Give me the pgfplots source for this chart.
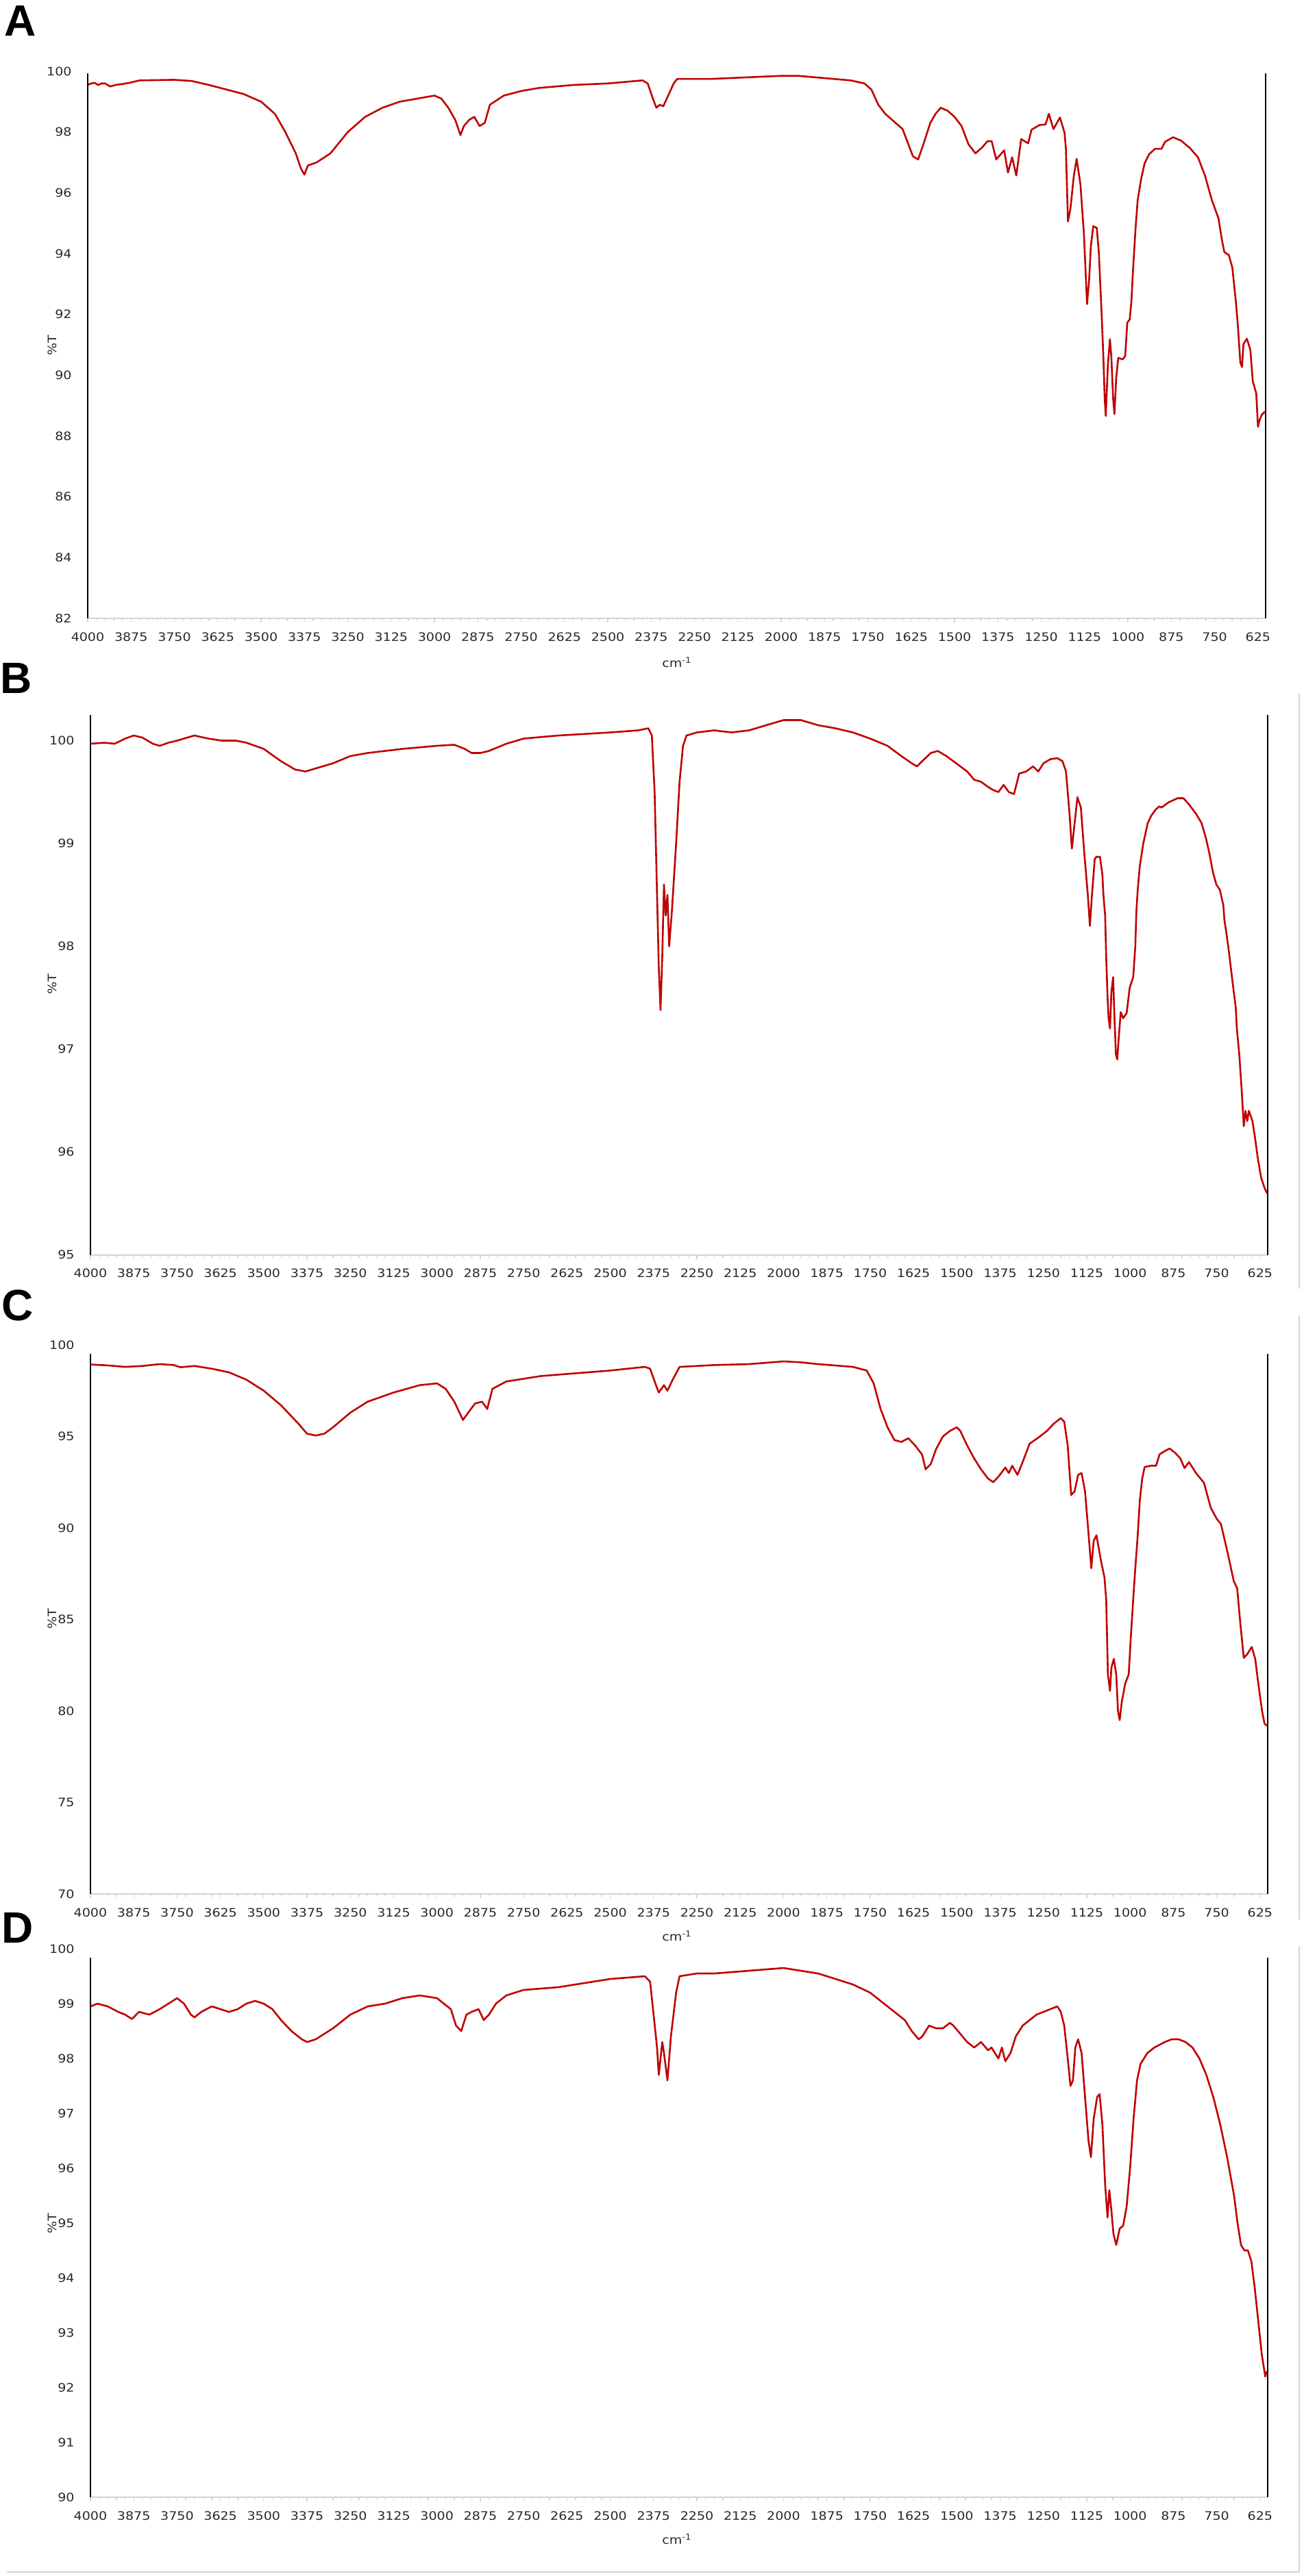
\documentclass[border=0pt]{standalone}
\usepackage{pgfplots}
\pgfplotsset{compat=1.18}
\usepackage{fontspec}
\setmainfont{DejaVu Sans}
\newfontfamily\tickfontfam[FakeStretch=1.12]{DejaVu Sans}
\newfontfamily\letterfont{Liberation Sans}
\newcommand{\tickfont}{\tickfontfam\fontsize{8.5pt}{9.5pt}\selectfont}
\definecolor{irred}{RGB}{192,0,0}
\definecolor{tickcol}{RGB}{40,40,40}
\definecolor{frame}{RGB}{212,212,212}
\pgfplotsset{
  irstyle/.style={
    scale only axis,
    x dir=reverse,
    xmin=603, xmax=4000,
    xtick={625,750,...,4000},
    minor x tick num=4,
    xtick pos=bottom,
    tick align=outside,
    major tick length=3pt,
    minor tick length=2pt,
    every tick/.style={frame, line width=0.6pt},
    ytick style={draw=none},
    axis line style={draw=none},
    clip=false,
    /pgf/number format/.cd, set thousands separator={}, assume math mode=true,
    /pgfplots/.cd,
    xticklabel style={font=\tickfont, text=tickcol, anchor=north, inner sep=0pt, yshift=-7pt},
    yticklabel style={font=\tickfont, text=tickcol, anchor=east, inner sep=0pt, xshift=-8.5pt},
  },
  irline/.style={draw=irred, line width=1.3pt, line join=round, mark=none},
}
\begin{document}
\begin{tikzpicture}
\path[use as bounding box] (0pt,0pt) rectangle (951pt,-1879pt);
% panel letters
\node[font=\letterfont\bfseries\fontsize{32pt}{34pt}\selectfont, inner sep=0pt] at (15pt,-15pt) {A};
\node[font=\letterfont\bfseries\fontsize{32pt}{34pt}\selectfont, inner sep=0pt] at (12pt,-494.5pt) {B};
\node[font=\letterfont\bfseries\fontsize{32pt}{34pt}\selectfont, inner sep=0pt] at (13pt,-952pt) {C};
\node[font=\letterfont\bfseries\fontsize{32pt}{34pt}\selectfont, inner sep=0pt] at (13pt,-1406pt) {D};
% frames
\draw[frame, line width=1pt] (948pt,-506pt) -- (948pt,-940pt);
\draw[frame, line width=1pt] (948pt,-960pt) -- (948pt,-1400pt);
\draw[frame, line width=1pt] (948pt,-1420pt) -- (948pt,-1876pt) -- (5pt,-1876pt);
% y labels
\node[rotate=90, font=\tickfont, text=tickcol] at (38pt,-252pt) {\%T};
\node[rotate=90, font=\tickfont, text=tickcol] at (38pt,-718pt) {\%T};
\node[rotate=90, font=\tickfont, text=tickcol] at (38pt,-1181pt) {\%T};
\node[rotate=90, font=\tickfont, text=tickcol] at (38pt,-1622pt) {\%T};
% x labels
\node[font=\tickfont, text=tickcol] at (494pt,-483pt) {cm\textsuperscript{-1}};
\node[font=\tickfont, text=tickcol] at (494pt,-1412pt) {cm\textsuperscript{-1}};
\node[font=\tickfont, text=tickcol] at (494pt,-1852pt) {cm\textsuperscript{-1}};

% ---------------- A ----------------
\begin{axis}[irstyle, at={(64pt,-451pt)}, anchor=south west,
  width=859.5pt, height=399pt, ymin=82, ymax=100, ytick={82,84,...,100}]
\addplot[irline] coordinates {
(4000,99.55)(3990,99.6)(3980,99.62)(3970,99.55)(3960,99.6)(3950,99.6)(3935,99.5)(3920,99.55)(3900,99.58)(3880,99.62)(3850,99.7)(3750,99.72)(3700,99.68)
(3650,99.55)(3600,99.4)(3550,99.25)(3500,99.0)(3460,98.6)(3430,98.0)(3400,97.3)
(3385,96.8)(3375,96.6)(3365,96.9)(3340,97.0)(3300,97.3)(3250,98.0)(3200,98.5)
(3150,98.8)(3100,99.0)(3050,99.1)(3000,99.2)(2980,99.1)(2960,98.8)(2940,98.4)
(2925,97.9)(2915,98.2)(2900,98.4)(2885,98.5)(2870,98.2)(2855,98.3)(2840,98.9)
(2800,99.2)(2750,99.35)(2700,99.45)(2600,99.55)(2500,99.6)(2400,99.7)(2385,99.6)
(2370,99.1)(2360,98.8)(2350,98.9)(2340,98.85)(2330,99.1)(2310,99.6)(2300,99.75)
(2200,99.75)(2100,99.8)(2000,99.85)(1950,99.85)(1900,99.8)(1800,99.7)(1760,99.6)
(1740,99.4)(1720,98.9)(1700,98.6)(1680,98.4)(1650,98.1)(1630,97.5)(1620,97.2)
(1605,97.1)(1590,97.6)(1570,98.3)(1555,98.6)(1540,98.8)(1520,98.7)(1500,98.5)
(1480,98.2)(1460,97.6)(1440,97.3)(1420,97.5)(1405,97.7)(1393,97.7)(1380,97.1)
(1357,97.4)(1346,96.67)(1334,97.17)(1322,96.57)(1308,97.77)(1288,97.63)(1278,98.08)
(1255,98.23)(1238,98.25)(1228,98.6)(1215,98.1)(1196,98.48)(1183,97.98)(1179,97.47)
(1173,95.06)(1166,95.47)(1156,96.57)(1148,97.12)(1137,96.27)(1127,94.65)(1118,92.34)
(1112,93.14)(1107,94.25)(1100,94.9)(1090,94.85)(1084,94.05)(1076,92.04)(1071,90.63)
(1067,89.22)(1064,88.66)(1058,90.32)(1052,91.18)(1048,90.63)(1043,89.27)(1039,88.72)
(1034,89.9)(1028,90.57)(1015,90.52)(1008,90.63)(1002,91.73)(995,91.83)(990,92.44)
(985,93.54)(978,94.85)(972,95.76)(962,96.46)(952,96.97)(939,97.27)(922,97.45)
(903,97.45)(893,97.68)(870,97.83)(847,97.72)(821,97.47)(798,97.17)(778,96.57)
(758,95.76)(739,95.16)(729,94.45)(722,94.05)(709,93.95)(699,93.54)(689,92.44)
(683,91.63)(676,90.42)(671,90.27)(667,91.02)(657,91.2)(647,90.83)(640,89.8)
(630,89.4)(625,88.3)(621,88.5)(614,88.7)(605,88.8)
};
\draw[frame, line width=1pt] (axis cs:4000,82) -- (axis cs:603,82);
\draw[black, line width=1pt] (axis cs:4000,82) -- (axis cs:4000,99.93);
\draw[black, line width=1pt] (axis cs:603,82) -- (axis cs:603,99.93);
\end{axis}

% ---------------- B ----------------
\begin{axis}[irstyle, at={(66pt,-915.25pt)}, anchor=south west,
  width=859pt, height=393.75pt, ymin=95, ymax=100.25, ytick={95,96,...,100}]
\addplot[irline] coordinates {
(4000,99.97)(3960,99.98)(3930,99.97)(3900,100.02)(3875,100.05)(3850,100.03)(3820,99.97)
(3800,99.95)(3775,99.98)(3750,100.0)(3720,100.03)(3700,100.05)(3660,100.02)(3620,100.0)
(3580,100.0)(3550,99.98)(3500,99.92)(3450,99.8)(3410,99.72)(3380,99.7)(3350,99.73)
(3300,99.78)(3250,99.85)(3200,99.88)(3100,99.92)(3000,99.95)(2950,99.96)(2920,99.92)
(2900,99.88)(2875,99.88)(2850,99.9)(2800,99.97)(2750,100.02)(2650,100.05)(2500,100.08)
(2420,100.1)(2390,100.12)(2380,100.05)(2372,99.5)(2365,98.5)(2360,97.8)(2355,97.38)
(2350,97.9)(2345,98.6)(2340,98.3)(2335,98.5)(2330,98.0)(2322,98.35)(2310,99.0)
(2300,99.6)(2290,99.95)(2280,100.05)(2250,100.08)(2200,100.1)(2150,100.08)(2100,100.1)
(2050,100.15)(2000,100.2)(1950,100.2)(1900,100.15)(1850,100.12)(1800,100.08)
(1750,100.02)(1700,99.95)(1660,99.85)(1630,99.78)(1615,99.75)(1600,99.8)(1575,99.88)
(1555,99.9)(1530,99.85)(1510,99.8)(1490,99.75)(1470,99.7)(1450,99.62)(1430,99.6)
(1410,99.55)(1395,99.52)(1380,99.5)(1365,99.57)(1350,99.5)(1335,99.48)(1320,99.68)
(1300,99.7)(1280,99.75)(1265,99.7)(1250,99.78)(1230,99.82)(1210,99.83)(1195,99.8)
(1185,99.7)(1175,99.3)(1168,98.95)(1160,99.2)(1152,99.45)(1142,99.35)(1132,98.9)
(1122,98.5)(1116,98.2)(1110,98.5)(1102,98.85)(1097,98.87)(1087,98.87)(1080,98.7)
(1077,98.5)(1072,98.3)(1069,97.9)(1065,97.5)(1062,97.3)(1058,97.2)(1054,97.55)
(1049,97.7)(1045,97.3)(1041,96.95)(1037,96.9)(1033,97.1)(1027,97.36)(1020,97.3)
(1010,97.35)(1001,97.6)(991,97.7)(985,98.0)(982,98.33)(978,98.55)(972,98.78)
(962,99.0)(949,99.2)(939,99.27)(926,99.33)(916,99.36)(909,99.35)(889,99.4)
(863,99.44)(846,99.44)(830,99.38)(810,99.29)(794,99.2)(781,99.05)(771,98.9)
(761,98.72)(751,98.6)(741,98.55)(731,98.4)(728,98.26)(721,98.1)(715,97.95)
(705,97.67)(695,97.4)(692,97.2)(685,96.95)(678,96.6)(672,96.25)(667,96.4)
(662,96.3)(657,96.4)(652,96.35)(647,96.3)(640,96.15)(632,95.95)(622,95.75)
(612,95.65)(605,95.6)
};
\draw[frame, line width=1pt] (axis cs:4000,95) -- (axis cs:603,95);
\draw[black, line width=1pt] (axis cs:4000,95) -- (axis cs:4000,100.25);
\draw[black, line width=1pt] (axis cs:603,95) -- (axis cs:603,100.25);
\end{axis}

% ---------------- C ----------------
\begin{axis}[irstyle, at={(66pt,-1381.5pt)}, anchor=south west,
  width=859pt, height=400.5pt, ymin=70, ymax=100, ytick={70,75,...,100}]
\addplot[irline] coordinates {
(4000,98.93)(3950,98.88)(3900,98.8)(3850,98.85)(3800,98.95)(3760,98.9)(3740,98.78)
(3700,98.85)(3650,98.7)(3600,98.5)(3550,98.1)(3500,97.5)(3450,96.7)(3400,95.7)
(3375,95.15)(3350,95.05)(3325,95.15)(3300,95.5)(3250,96.3)(3200,96.9)(3125,97.4)
(3050,97.8)(3000,97.9)(2975,97.6)(2950,96.9)(2925,95.9)(2910,96.3)(2890,96.8)
(2870,96.9)(2855,96.5)(2840,97.6)(2800,98.0)(2700,98.3)(2600,98.45)(2500,98.6)
(2400,98.8)(2385,98.7)(2370,97.9)(2360,97.4)(2345,97.8)(2335,97.5)(2320,98.1)
(2300,98.8)(2200,98.9)(2100,98.95)(2000,99.1)(1950,99.05)(1900,98.95)(1800,98.8)
(1760,98.6)(1740,97.9)(1720,96.5)(1700,95.5)(1680,94.8)(1660,94.7)(1640,94.9)
(1620,94.5)(1600,94.0)(1590,93.2)(1575,93.5)(1560,94.3)(1540,95.0)(1520,95.3)
(1500,95.5)(1490,95.3)(1470,94.5)(1450,93.8)(1430,93.2)(1410,92.7)(1395,92.5)
(1380,92.8)(1360,93.3)(1350,93.0)(1340,93.4)(1325,92.9)(1310,93.6)(1290,94.6)
(1260,95.0)(1240,95.3)(1220,95.7)(1200,96.0)(1190,95.8)(1180,94.5)(1170,91.8)
(1160,92.0)(1150,92.9)(1140,93.0)(1130,92.0)(1120,89.7)(1112,87.8)(1105,89.3)
(1097,89.6)(1084,88.2)(1074,87.3)(1069,86.1)(1064,82.0)(1058,81.1)(1054,82.35)
(1047,82.85)(1040,82.0)(1035,80.0)(1030,79.5)(1024,80.5)(1014,81.5)(1004,82.0)
(998,84.0)(991,86.1)(985,87.8)(978,89.6)(972,91.5)(965,92.7)(958,93.33)
(940,93.4)(925,93.4)(915,94.02)(900,94.2)(886,94.34)(870,94.1)(855,93.8)
(843,93.27)(830,93.6)(810,93.0)(787,92.47)(767,91.09)(750,90.5)(738,90.22)
(718,88.6)(701,87.1)(691,86.7)(682,84.8)(672,82.9)(662,83.1)(649,83.5)
(639,82.85)(629,81.35)(619,79.97)(612,79.3)(605,79.2)
};
\draw[frame, line width=1pt] (axis cs:4000,70) -- (axis cs:603,70);
\draw[black, line width=1pt] (axis cs:4000,70) -- (axis cs:4000,99.5);
\draw[black, line width=1pt] (axis cs:603,70) -- (axis cs:603,99.5);
\end{axis}

% ---------------- D ----------------
\begin{axis}[irstyle, at={(66pt,-1821.5pt)}, anchor=south west,
  width=859pt, height=400pt, ymin=90, ymax=100, ytick={90,91,...,100}]
\addplot[irline] coordinates {
(4000,98.95)(3980,99.0)(3950,98.95)(3920,98.85)(3900,98.8)(3880,98.72)(3860,98.85)
(3830,98.8)(3800,98.9)(3775,99.0)(3750,99.1)(3730,99.0)(3710,98.8)(3700,98.75)
(3680,98.85)(3650,98.95)(3625,98.9)(3600,98.85)(3575,98.9)(3550,99.0)(3525,99.05)
(3500,99.0)(3475,98.9)(3450,98.7)(3420,98.5)(3390,98.35)(3375,98.3)(3350,98.35)
(3325,98.45)(3300,98.55)(3250,98.8)(3200,98.95)(3150,99.0)(3100,99.1)(3050,99.15)
(3000,99.1)(2980,99.0)(2960,98.9)(2945,98.6)(2930,98.5)(2915,98.8)(2900,98.85)
(2880,98.9)(2865,98.7)(2850,98.8)(2830,99.0)(2800,99.15)(2750,99.25)(2650,99.3)
(2500,99.45)(2400,99.5)(2385,99.4)(2375,98.8)(2365,98.2)(2360,97.7)(2350,98.3)
(2345,98.1)(2335,97.6)(2325,98.4)(2310,99.2)(2300,99.5)(2250,99.55)(2200,99.55)
(2100,99.6)(2000,99.65)(1950,99.6)(1900,99.55)(1850,99.45)(1800,99.35)(1750,99.2)
(1700,98.95)(1670,98.8)(1650,98.7)(1630,98.5)(1610,98.35)(1600,98.4)(1580,98.6)
(1560,98.55)(1540,98.55)(1520,98.65)(1510,98.6)(1490,98.45)(1470,98.3)(1450,98.2)
(1430,98.3)(1410,98.15)(1400,98.2)(1380,98.0)(1370,98.2)(1360,97.95)(1345,98.1)
(1330,98.4)(1310,98.6)(1290,98.7)(1270,98.8)(1250,98.85)(1230,98.9)(1210,98.95)
(1200,98.85)(1190,98.6)(1180,98.0)(1172,97.5)(1165,97.6)(1158,98.2)(1150,98.35)
(1140,98.1)(1130,97.3)(1120,96.5)(1113,96.2)(1105,96.9)(1095,97.3)(1088,97.35)
(1080,96.8)(1072,95.7)(1065,95.1)(1060,95.6)(1055,95.3)(1048,94.8)(1040,94.6)
(1030,94.9)(1020,94.95)(1010,95.3)(1000,96.0)(990,96.9)(980,97.6)(970,97.9)
(950,98.1)(930,98.2)(900,98.3)(880,98.35)(860,98.35)(840,98.3)(820,98.2)
(800,98.0)(780,97.7)(760,97.3)(740,96.8)(720,96.2)(700,95.5)(690,95.0)
(680,94.6)(670,94.5)(660,94.5)(650,94.3)(640,93.8)(630,93.2)(620,92.6)
(610,92.2)(605,92.3)
};
\draw[frame, line width=1pt] (axis cs:4000,90) -- (axis cs:603,90);
\draw[black, line width=1pt] (axis cs:4000,90) -- (axis cs:4000,99.84);
\draw[black, line width=1pt] (axis cs:603,90) -- (axis cs:603,99.84);
\end{axis}
\end{tikzpicture}
\end{document}
